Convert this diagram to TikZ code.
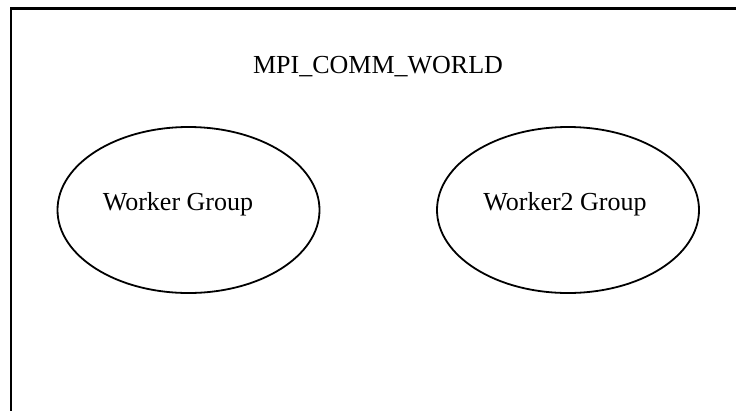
\documentclass[tikz,border=0pt]{standalone}
\usepackage{fontspec}
\setmainfont{Liberation Serif}
\usetikzlibrary{shapes.geometric}
\begin{document}
\begin{tikzpicture}[x=1pt,y=-1pt,
  group/.style={draw, line width=1.8pt, ellipse, minimum width=262pt, minimum height=166pt, inner sep=0pt},
  lbl/.style={font=\fontsize{26}{30}\selectfont, inner sep=0pt}]
  \useasboundingbox (0,0) rectangle (736,410);
  % communicator frame (continues past the right and bottom edges)
  \draw[line width=2.6pt] (11,420) -- (11,8.5) -- (745,8.5);
  \node[lbl] (world) at (378,67) {MPI\_COMM\_WORLD};
  \node[group] (g1) at (188.5,210) {};
  \node[group] (g2) at (568,210) {};
  \node[lbl] (t1) at (178,204) {Worker Group};
  \node[lbl] (t2) at (565,204) {Worker2 Group};
\end{tikzpicture}
\end{document}
